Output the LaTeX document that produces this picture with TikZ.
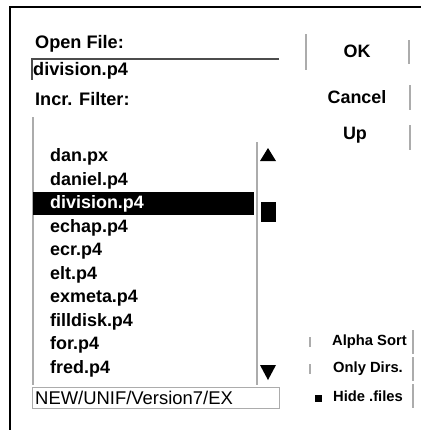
\documentclass[tikz,border=0pt]{standalone}
\usepackage{fontspec}
\setmainfont{Liberation Sans}
\begin{document}
\begin{tikzpicture}[x=1bp,y=-1bp,
  lbl/.style={anchor=west,inner sep=0pt,font=\fontsize{18.2}{20}\selectfont\bfseries},
  item/.style={anchor=west,inner sep=0pt,font=\fontsize{18}{20}\selectfont\bfseries},
  btn/.style={anchor=center,inner sep=0pt,font=\fontsize{18}{20}\selectfont\bfseries},
  chk/.style={anchor=west,inner sep=0pt,font=\fontsize{14.8}{17}\selectfont\bfseries},
  frame/.style={line width=2bp,black},
  edge/.style={line width=1.5bp,gray!65},
  darkedge/.style={line width=1.5bp,black!70}]
\useasboundingbox (0,0) rectangle (421,430);
% outer frame
\draw[frame] (421,7) -- (10,7) -- (10,430);
% labels
\node[lbl] (open) at (35,44) {Open File:};
\draw[darkedge] (279,59) -- (32,59) -- (32,80);
\node[lbl] (field) at (33,71) {division.p4};
\node[lbl] (incr) at (35,99) {Incr. Filter:};
% list box
\draw[edge] (33,117) -- (33,385);
\draw[edge] (257,142) -- (257,385);
\fill[black] (33,192) rectangle (254,215);
\foreach \t [count=\i from 0] in {dan.px,daniel.p4,division.p4,echap.p4,ecr.p4,elt.p4,exmeta.p4,filldisk.p4,for.p4,fred.p4}{
  \ifnum\i=2
    \node[item,text=white] (it\i) at (50,{157+23.5*\i}) {\t};
  \else
    \node[item] (it\i) at (50,{157+23.5*\i}) {\t};
  \fi
}
% scrollbar
\fill[black] (260,161) -- (268,148) -- (276,161) -- cycle;
\fill[black] (261,202) rectangle (276,222);
\fill[black] (260,365) -- (276,365) -- (268,380) -- cycle;
% path field
\draw[edge,line width=1bp] (32,387) rectangle (279,408);
\node[anchor=west,inner sep=0pt,font=\fontsize{18.5}{20}\selectfont] (path) at (35,398) {NEW/UNIF/Version7/EX};
% buttons
\node[btn] (ok) at (357,51) {OK};
\node[btn] (cancel) at (357,97) {Cancel};
\node[btn] (up) at (355,135) {Up};
\draw[edge] (306,34) -- (306,70);
\draw[edge] (409,40) -- (409,64);
\draw[edge] (410,85) -- (410,110);
\draw[edge] (410,125) -- (410,150);
% check boxes
\node[chk] (alpha) at (332,342) {Alpha Sort};
\node[chk] (dirs) at (333,369) {Only Dirs.};
\node[chk] (hide) at (333,396) {Hide .files};
\draw[edge] (413,330) -- (413,354);
\draw[edge] (413,357) -- (413,381);
\draw[edge] (413,384) -- (413,408);
\draw[edge] (310,337) -- (310,347);
\draw[edge] (310,364) -- (310,374);
\fill[black] (315,395) rectangle (322,402);
\end{tikzpicture}
\end{document}
